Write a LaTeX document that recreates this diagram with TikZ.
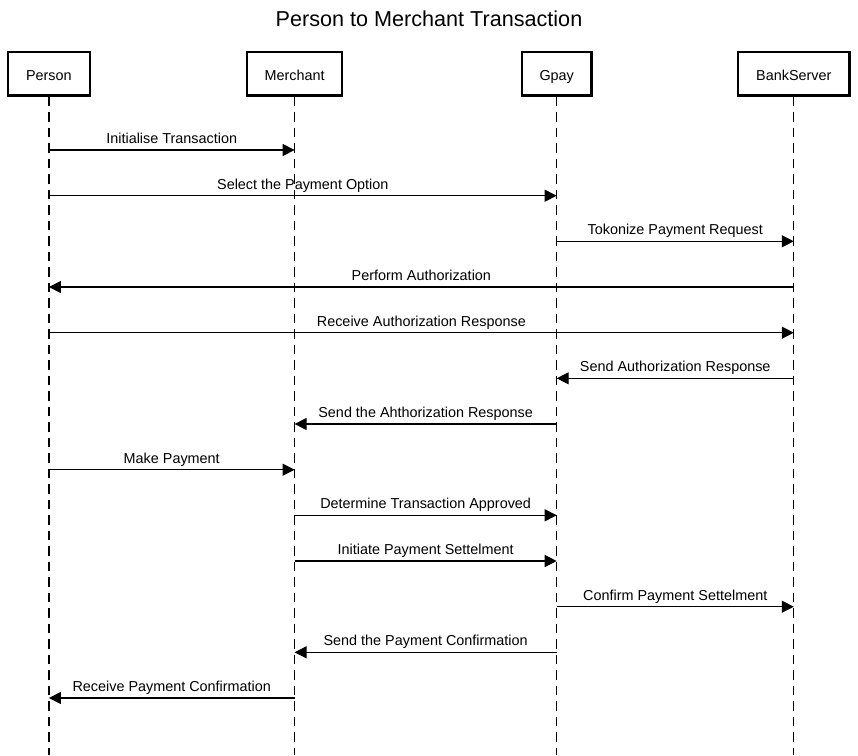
\documentclass[tikz,border=0pt]{standalone}
\usepackage{fontspec}
\setmainfont{Liberation Sans}
\usetikzlibrary{arrows.meta}
\begin{document}
\begin{tikzpicture}[x=1pt,y=-1pt,
  actor/.style={draw=black,line width=2.4pt,minimum height=43.6pt,inner sep=0pt,
    text height=14pt,text depth=1.4pt,font=\fontsize{14.4}{17}\selectfont},
  life/.style={line width=1.2pt,dash pattern=on 9.5pt off 6pt},
  msg/.style={line width=1.2pt,-{Triangle[length=12pt,width=12pt]}},
  lbl/.style={anchor=base,yshift=6.5pt,inner sep=0pt,font=\fontsize{14.4}{17}\selectfont}]
\useasboundingbox (0,0) rectangle (858,755);
\node[anchor=base,font=\fontsize{21.6}{26}\selectfont] (title) at (429,26) {Person to Merchant Transaction};
\node[actor,minimum width=81.6pt] (P) at (48.9,73.7) {Person};
\node[actor,minimum width=95pt] (M) at (294.6,73.7) {Merchant};
\node[actor,minimum width=69.6pt] (G) at (556.7,73.7) {Gpay};
\node[actor,minimum width=111.6pt] (B) at (793.8,73.7) {BankServer};
\coordinate (bot) at (0,755);
\foreach \n in {P,M,G,B}{\draw[life] (\n.south) -- (\n.south |- bot);}
\foreach \i/\yy in {1/150,2/195.7,3/241.3,4/287,5/332.7,6/378.3,7/424,8/469.7,9/515.3,10/561,11/606.7,12/652.3,13/698}{\coordinate (r\i) at (0,\yy);}
\draw[msg] (P |- r1) -- (M |- r1) node[lbl,midway] {Initialise Transaction};
\draw[msg] (P |- r2) -- (G |- r2) node[lbl,midway] {Select the Payment Option};
\draw[msg] (G |- r3) -- (B |- r3) node[lbl,midway] {Tokonize Payment Request};
\draw[msg] (B |- r4) -- (P |- r4) node[lbl,midway] {Perform Authorization};
\draw[msg] (P |- r5) -- (B |- r5) node[lbl,midway] {Receive Authorization Response};
\draw[msg] (B |- r6) -- (G |- r6) node[lbl,midway] {Send Authorization Response};
\draw[msg] (G |- r7) -- (M |- r7) node[lbl,midway] {Send the Ahthorization Response};
\draw[msg] (P |- r8) -- (M |- r8) node[lbl,midway] {Make Payment};
\draw[msg] (M |- r9) -- (G |- r9) node[lbl,midway] {Determine Transaction Approved};
\draw[msg] (M |- r10) -- (G |- r10) node[lbl,midway] {Initiate Payment Settelment};
\draw[msg] (G |- r11) -- (B |- r11) node[lbl,midway] {Confirm Payment Settelment};
\draw[msg] (G |- r12) -- (M |- r12) node[lbl,midway] {Send the Payment Confirmation};
\draw[msg] (M |- r13) -- (P |- r13) node[lbl,midway] {Receive Payment Confirmation};
\end{tikzpicture}
\end{document}
